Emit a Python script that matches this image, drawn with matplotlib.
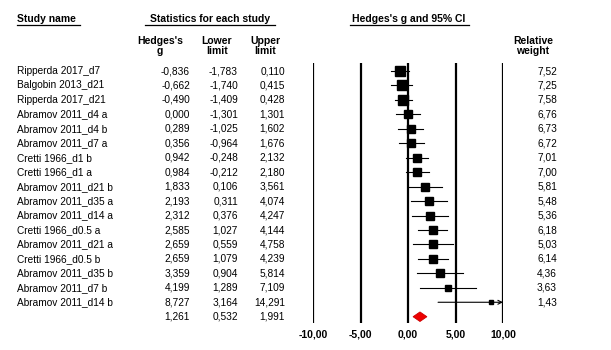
import matplotlib.pyplot as plt
import matplotlib.transforms as mtransforms
from matplotlib.patches import Polygon

plt.rcParams['font.family'] = ['Liberation Sans', 'DejaVu Sans']

studies = ["Ripperda 2017_d7", "Balgobin 2013_d21", "Ripperda 2017_d21",
           "Abramov 2011_d4 a", "Abramov 2011_d4 b", "Abramov 2011_d7 a",
           "Cretti 1966_d1 b", "Cretti 1966_d1 a", "Abramov 2011_d21 b",
           "Abramov 2011_d35 a", "Abramov 2011_d14 a", "Cretti 1966_d0.5 a",
           "Abramov 2011_d21 a", "Cretti 1966_d0.5 b", "Abramov 2011_d35 b",
           "Abramov 2011_d7 b", "Abramov 2011_d14 b"]
g = [-0.836, -0.662, -0.490, 0.000, 0.289, 0.356, 0.942, 0.984, 1.833,
     2.193, 2.312, 2.585, 2.659, 2.659, 3.359, 4.199, 8.727]
lower = [-1.783, -1.740, -1.409, -1.301, -1.025, -0.964, -0.248, -0.212, 0.106,
         0.311, 0.376, 1.027, 0.559, 1.079, 0.904, 1.289, 3.164]
upper = [0.110, 0.415, 0.428, 1.301, 1.602, 1.676, 2.132, 2.180, 3.561,
         4.074, 4.247, 4.144, 4.758, 4.239, 5.814, 7.109, 14.291]
weight = [7.52, 7.25, 7.58, 6.76, 6.73, 6.72, 7.01, 7.00, 5.81,
          5.48, 5.36, 6.18, 5.03, 6.14, 4.36, 3.63, 1.43]
pooled = (1.261, 0.532, 1.991)
xticks = [-10, -5, 0, 5, 10]

W, H = 611, 350
fig = plt.figure(figsize=(W / 100, H / 100), dpi=100)

n = len(studies)
# forest panel spans -10..10; the pooled row sits below the last study
ax = fig.add_axes([313 / W, 1 - 322.5 / H, (503 - 313) / W, (322.5 - 62.5) / H])
ax.set_xlim(-10, 10)
ax.set_ylim(n + 0.40, -0.59)
for s in ax.spines.values():
    s.set_visible(False)
ax.set_yticks([])
ax.set_xticks(xticks)
ax.set_xticklabels([f"{t:.2f}".replace(".", ",") for t in xticks],
                   fontsize=7.5, fontweight="bold")
ax.tick_params(axis="x", length=0, pad=5)
for t in xticks:
    ax.axvline(t, color="black", lw=1.6, zorder=1)

for i in range(n):
    hi = min(upper[i], 10)
    if upper[i] > 10:
        ax.annotate("", xy=(10, i), xytext=(lower[i], i),
                    arrowprops=dict(arrowstyle="->", lw=0.8, color="black",
                                    shrinkA=0, shrinkB=0, mutation_scale=7),
                    zorder=2)
    else:
        ax.plot([lower[i], hi], [i, i], color="black", lw=0.8, zorder=2)
    ms = 6.7 * (weight[i] / 7.58) ** 0.5
    ax.plot(g[i], i, marker="s", ms=ms, color="black", mec="black", zorder=3)

pg, pl, pu = pooled
ax.add_patch(Polygon([(pl, n), (pg, n - 0.33), (pu, n), (pg, n + 0.33)],
                     closed=True, facecolor="#ee0000", edgecolor="#cc0000",
                     lw=0.6, zorder=3))

# text columns share the forest panel's row positions
tr = mtransforms.blended_transform_factory(fig.transFigure, ax.transData)
fs = 7.3
for i in range(n):
    fig.text(17 / W, i, studies[i], transform=tr, fontsize=fs, va="center")
    fig.text(190 / W, i, f"{g[i]:.3f}".replace(".", ","), transform=tr,
             fontsize=fs, va="center", ha="right")
    fig.text(238 / W, i, f"{lower[i]:.3f}".replace(".", ","), transform=tr,
             fontsize=fs, va="center", ha="right")
    fig.text(285 / W, i, f"{upper[i]:.3f}".replace(".", ","), transform=tr,
             fontsize=fs, va="center", ha="right")
    fig.text(557 / W, i, f"{weight[i]:.2f}".replace(".", ","), transform=tr,
             fontsize=fs, va="center", ha="right")
for x, v in zip([190, 238, 285], pooled):
    fig.text(x / W, n, f"{v:.3f}".replace(".", ","), transform=tr,
             fontsize=fs, va="center", ha="right")

# headers
def header(x, y, s, ha, x0, x1):
    fig.text(x / W, 1 - y / H, s, fontsize=7.5, fontweight="bold",
             ha=ha, va="center")
    fig.add_artist(plt.Line2D([x0 / W, x1 / W], [1 - 25 / H, 1 - 25 / H],
                              color="black", lw=0.9))

header(17, 19, "Study name", "left", 17, 80)
header(210, 19, "Statistics for each study", "center", 145, 275)
header(409, 19, "Hedges's g and 95% CI", "center", 350, 469)

for x, s in [(160, "Hedges's\ng"), (217, "Lower\nlimit"), (265, "Upper\nlimit"),
             (533, "Relative\nweight")]:
    fig.text(x / W, 1 - 46 / H, s, fontsize=7.5, fontweight="bold",
             ha="center", va="center", linespacing=1.05)

fig.savefig("out.png", dpi=100)
